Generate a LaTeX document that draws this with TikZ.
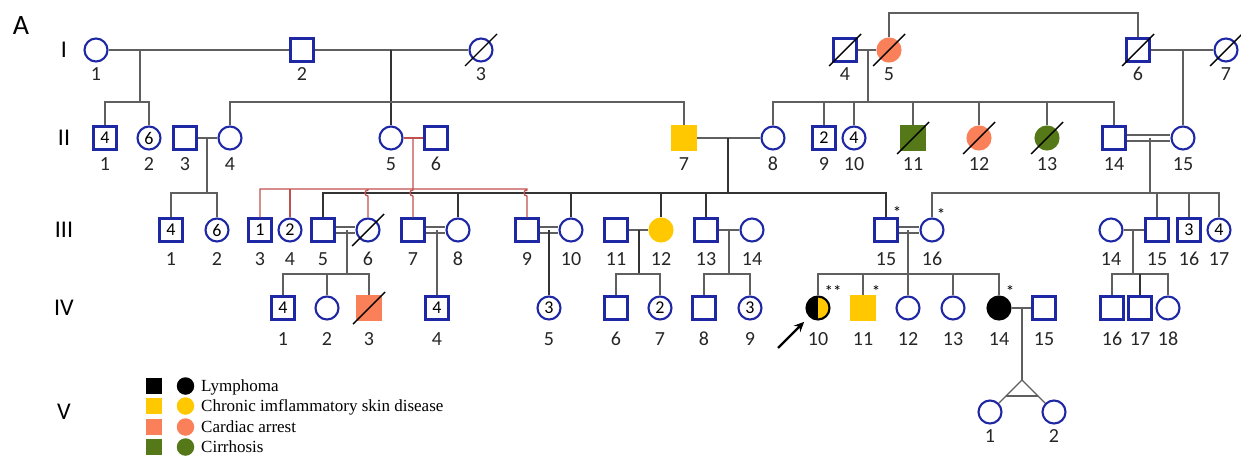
\documentclass[tikz,border=0pt]{standalone}
\usepackage{fontspec}
\setmainfont{Carlito}
\newfontfamily\legfont{Liberation Serif}
\usetikzlibrary{calc,arrows.meta}
\definecolor{pblue}{RGB}{30,40,165}
\definecolor{lgray}{RGB}{95,95,95}
\definecolor{dred}{RGB}{192,80,77}
\definecolor{porange}{RGB}{250,128,90}
\definecolor{pyellow}{RGB}{255,200,0}
\definecolor{pgreen}{RGB}{85,120,25}
\begin{document}
\begin{tikzpicture}[x=1pt,y=-1pt,
  base/.style={minimum size=23pt,inner sep=0pt,line width=2.1pt,draw=pblue,font=\fontsize{18}{18}\selectfont},
  ml/.style={base,rectangle},
  fl/.style={base,circle},
  fOr/.style={fill=porange,draw=porange},
  fYe/.style={fill=pyellow,draw=pyellow},
  fGr/.style={fill=pgreen,draw=pgreen},
  fBk/.style={fill=black,draw=black},
  lab/.style={inner sep=0pt,text height=13pt,text depth=0pt,font=\fontsize{20}{20}\selectfont,text=black!85},
  L1/.style={lab,label distance=4.5pt},
  L2/.style={lab,label distance=6.5pt},
  L3/.style={lab,label distance=9.5pt},
  L4/.style={lab,label distance=11.5pt},
  L5/.style={lab,label distance=4.5pt},
  conn/.style={draw=lgray,line width=1.3pt},
  connk/.style={draw=black!80,line width=1.4pt},
  redl/.style={draw=dred,line width=1.3pt},
  dbl/.style={draw=lgray,line width=1.3pt,double=white,double distance=4.5pt},
  slash/.style={draw=black,line width=1.4pt},
  gen/.style={font=\fontsize{24}{24}\selectfont,inner sep=0pt},
  ast/.style={font=\fontsize{17}{17}\selectfont,inner sep=0pt},
  lsq/.style={rectangle,minimum size=16pt,inner sep=0pt},
  lci/.style={circle,minimum size=17.5pt,inner sep=0pt},
  legt/.style={font=\legfont\fontsize{17}{17}\selectfont,anchor=base west,inner sep=0pt},
  arr/.style={draw=black,line width=2.4pt,-{Stealth[length=10pt,width=9pt]},shorten >=7pt}
]
\useasboundingbox (0,0) rectangle (1241,458);

% titles and generation labels
\node[font=\fontsize{28}{28}\selectfont,inner sep=0pt] (pa) at (21,26) {A};
\node[gen] (gI) at (64,50) {I};
\node[gen] (gII) at (64,138) {II};
\node[gen] (gIII) at (64,230) {III};
\node[gen] (gIV) at (64,308) {IV};
\node[gen] (gV) at (64,412) {V};

% Generation I
\node[fl,label={[L1]below:1}] (i1) at (96,50) {};
\node[ml,label={[L1]below:2}] (i2) at (302,50) {};
\node[fl,label={[L1]below:3}] (i3) at (481,50) {};
\node[ml,label={[L1]below:4}] (i4) at (845,50) {};
\node[fl,fOr,label={[L1]below:5}] (i5) at (889,50) {};
\node[ml,label={[L1]below:6}] (i6) at (1138,50) {};
\node[fl,label={[L1]below:7}] (i7) at (1226,50) {};

% Generation II
\node[ml,label={[L2]below:1}] (ii1) at (105,138) {4};
\node[fl,label={[L2]below:2}] (ii2) at (149,138) {6};
\node[ml,label={[L2]below:3}] (ii3) at (185,138) {};
\node[fl,label={[L2]below:4}] (ii4) at (230,138) {};
\node[fl,label={[L2]below:5}] (ii5) at (391,138) {};
\node[ml,label={[L2]below:6}] (ii6) at (436,138) {};
\node[ml,fYe,label={[L2]below:7}] (ii7) at (684,138) {};
\node[fl,label={[L2]below:8}] (ii8) at (773,138) {};
\node[ml,label={[L2]below:9}] (ii9) at (824,138) {2};
\node[fl,label={[L2]below:10}] (ii10) at (854,138) {4};
\node[ml,fGr,label={[L2]below:11}] (ii11) at (913,138) {};
\node[fl,fOr,label={[L2]below:12}] (ii12) at (979,138) {};
\node[fl,fGr,label={[L2]below:13}] (ii13) at (1047,138) {};
\node[ml,label={[L2]below:14}] (ii14) at (1114,138) {};
\node[fl,label={[L2]below:15}] (ii15) at (1183,138) {};

% Generation III
\node[ml,label={[L3]below:1}] (iii1) at (171,230) {4};
\node[fl,label={[L3]below:2}] (iii2) at (217,230) {6};
\node[ml,label={[L3]below:3}] (iii3) at (260,230) {1};
\node[fl,label={[L3]below:4}] (iii4) at (290,230) {2};
\node[ml,label={[L3]below:5}] (iii5) at (323,230) {};
\node[fl,label={[L3]below:6}] (iii6) at (368,230) {};
\node[ml,label={[L3]below:7}] (iii7) at (413,230) {};
\node[fl,label={[L3]below:8}] (iii8) at (458,230) {};
\node[ml,label={[L3]below:9}] (iii9) at (527,230) {};
\node[fl,label={[L3]below:10}] (iii10) at (571,230) {};
\node[ml,label={[L3]below:11}] (iii11) at (616,230) {};
\node[fl,fYe,label={[L3]below:12}] (iii12) at (661,230) {};
\node[ml,label={[L3]below:13}] (iii13) at (706,230) {};
\node[fl,label={[L3]below:14}] (iii14) at (752,230) {};
\node[ml,label={[L3]below:15}] (iii15) at (886,230) {};
\node[fl,label={[L3]below:16}] (iii16) at (932,230) {};
\node[fl,label={[L3]below:14}] (iii14b) at (1111,230) {};
\node[ml,label={[L3]below:15}] (iii15b) at (1157,230) {};
\node[ml,label={[L3]below:16}] (iii16b) at (1189,230) {3};
\node[fl,label={[L3]below:17}] (iii17) at (1219,230) {4};

% Generation IV
\node[ml,label={[L4]below:1}] (iv1) at (283,308) {4};
\node[fl,label={[L4]below:2}] (iv2) at (327,308) {};
\node[ml,fOr,label={[L4]below:3}] (iv3) at (369,308) {};
\node[ml,label={[L4]below:4}] (iv4) at (437,308) {4};
\node[fl,label={[L4]below:5}] (iv5) at (549,308) {3};
\node[ml,label={[L4]below:6}] (iv6) at (616,308) {};
\node[fl,label={[L4]below:7}] (iv7) at (660,308) {2};
\node[ml,label={[L4]below:8}] (iv8) at (704,308) {};
\node[fl,label={[L4]below:9}] (iv9) at (750,308) {3};
\node[fl,draw=black,label={[L4]below:10},
  path picture={\fill[pyellow] (path picture bounding box.south) rectangle (path picture bounding box.north east);
                \fill[black] (path picture bounding box.south west) rectangle (path picture bounding box.north);}] (iv10) at (818,308) {};
\node[ml,fYe,label={[L4]below:11}] (iv11) at (863,308) {};
\node[fl,label={[L4]below:12}] (iv12) at (908,308) {};
\node[fl,label={[L4]below:13}] (iv13) at (953,308) {};
\node[fl,fBk,label={[L4]below:14}] (iv14) at (999,308) {};
\node[ml,label={[L4]below:15}] (iv15) at (1044,308) {};
\node[ml,label={[L4]below:16}] (iv16) at (1112,308) {};
\node[ml,label={[L4]below:17}] (iv17) at (1140,308) {};
\node[fl,label={[L4]below:18}] (iv18) at (1168,308) {};

% Generation V
\node[fl,label={[L5]below:1}] (v1) at (990,412) {};
\node[fl,label={[L5]below:2}] (v2) at (1054,412) {};

% deceased slashes
\foreach \p in {i3,i4,i5,i6,i7,ii11,ii12,ii13,iii6,iv3}
  \draw[slash] ($(\p.center)+(-16,16)$) -- ($(\p.center)+(16,-16)$);

% helper rows
\coordinate (top) at (0,13);
\coordinate (s1) at (0,102);
\coordinate (rs) at (0,189);
\coordinate (s2) at (0,193);
\coordinate (s3) at (0,274);

% Generation I connectors
\draw[conn] (i1) -- (i2);
\draw[conn] (i2) -- (i3);
\coordinate (m12) at (140,50);
\draw[conn] (m12) -- (m12 |- s1);
\draw[conn] (ii1.north) -- (ii1.north |- s1) -- (ii2.north |- s1) -- (ii2.north);
\coordinate (m23) at (391,50);
\draw[connk] (m23) -- (ii5.north);
\draw[conn] (ii4.north) -- (ii4.north |- s1) -- (ii7.north |- s1) -- (ii7.north);
\draw[conn] (i4) -- (i5);
\coordinate (m45) at (868,50);
\draw[conn] (m45) -- (m45 |- s1);
\draw[conn] (ii8.north) -- (ii8.north |- s1) -- (ii14.north |- s1) -- (ii14.north);
\foreach \c in {ii9,ii10,ii11,ii12,ii13} \draw[conn] (\c.north) -- (\c.north |- s1);
\draw[conn] (i6) -- (i7);
\coordinate (m67) at (1183,50);
\draw[conn] (m67) -- (ii15.north);
\draw[conn] (i5.north) -- (i5.north |- top) -- (i6.north |- top) -- (i6.north);

% Generation II connectors
\draw[conn] (ii3) -- (ii4);
\coordinate (m34) at (207,138);
\draw[conn] (m34) -- (m34 |- s2);
\draw[conn] (iii1.north) -- (iii1.north |- s2) -- (iii2.north |- s2) -- (iii2.north);

\draw[conn] (ii7) -- (ii8);
\coordinate (m78) at (728,138);
\draw[connk] (m78) -- (m78 |- s2);
\draw[connk] (iii5.north) -- (iii5.north |- s2) -- (iii15.north |- s2) -- (iii15.north);
\foreach \c in {iii8,iii10,iii12,iii13} \draw[connk] (\c.north |- s2) -- (\c.north);

\draw[redl] (ii5) -- (ii6);
\coordinate (m56) at (413,138);
\draw[redl] (iii3.north) -- (iii3.north |- rs) -- (iii9.north |- rs) -- ++(0,1)
   .. controls +(-4,0) and +(-4,0) .. ++(0,6) -- (iii9.north);
\draw[redl] (iii4.north |- rs) -- (iii4.north);
\draw[redl] (iii6.north |- rs) -- ++(0,1) .. controls +(-4,0) and +(-4,0) .. ++(0,6) -- (iii6.north);
\draw[redl] (m56) -- (iii7.north |- rs) -- ++(0,1) .. controls +(-4,0) and +(-4,0) .. ++(0,6) -- (iii7.north);

\draw[dbl] (ii14) -- (ii15);
\coordinate (m1415) at (1150,138);
\draw[conn] (m1415) -- (m1415 |- s2);
\draw[conn] (iii16.north) -- (iii16.north |- s2) -- (iii17.north |- s2) -- (iii17.north);
\foreach \c in {iii15b,iii16b} \draw[conn] (\c.north |- s2) -- (\c.north);

% Generation III connectors
\draw[dbl] (iii5) -- (iii6);
\coordinate (m5b6) at (347,230);
\draw[conn] (m5b6) -- (m5b6 |- s3);
\draw[conn] (iv1.north) -- (iv1.north |- s3) -- (iv3.north |- s3) -- (iv3.north);
\draw[conn] (iv2.north |- s3) -- (iv2.north);

\draw[dbl] (iii7) -- (iii8);
\coordinate (m7b8) at (437,230);
\draw[conn] (m7b8) -- (iv4.north);

\draw[dbl] (iii9) -- (iii10);
\coordinate (m9b10) at (549,230);
\draw[connk] (m9b10) -- (iv5.north);

\draw[conn] (iii11) -- (iii12);
\coordinate (m11b12) at (639,230);
\draw[connk] (m11b12) -- (m11b12 |- s3);
\draw[conn] (iv6.north) -- (iv6.north |- s3) -- (iv7.north |- s3) -- (iv7.north);

\draw[conn] (iii13) -- (iii14);
\coordinate (m13b14) at (729,230);
\draw[conn] (m13b14) -- (m13b14 |- s3);
\draw[conn] (iv8.north) -- (iv8.north |- s3) -- (iv9.north |- s3) -- (iv9.north);

\draw[dbl] (iii15) -- (iii16);
\coordinate (m15b16) at (908,230);
\draw[conn] (m15b16) -- (m15b16 |- s3);
\draw[conn] (iv10.north) -- (iv10.north |- s3) -- (iv14.north |- s3) -- (iv14.north);
\foreach \c in {iv11,iv12,iv13} \draw[conn] (\c.north |- s3) -- (\c.north);

\draw[conn] (iii14b) -- (iii15b);
\coordinate (m14b15) at (1133,230);
\draw[conn] (m14b15) -- (m14b15 |- s3);
\draw[conn] (iv16.north) -- (iv16.north |- s3) -- (iv18.north |- s3) -- (iv18.north);
\draw[connk] (iv17.north |- s3) -- (iv17.north);

% Generation IV connectors and twins
\draw[conn] (iv14) -- (iv15);
\coordinate (m1415b) at (1022,308);
\coordinate (apex) at (1022,380);
\draw[conn] (m1415b) -- (apex);
\draw[conn] (apex) -- (v1);
\draw[conn] (apex) -- (v2);
\draw[conn] ($(apex)!0.5!(v1.center)$) -- ($(apex)!0.5!(v2.center)$);

% proband arrow
\coordinate (pb) at (778,348);
\draw[arr] (pb) -- (iv10.south west);

% asterisks
\node[ast] (a1) at (897,212) {*};
\node[ast] (a2) at (941,214) {*};
\node[ast] (a3) at (833,291) {**};
\node[ast] (a4) at (876,291) {*};
\node[ast] (a5) at (1010,291) {*};

% legend
\node[lsq,fill=black] (k1s) at (154,386) {};
\node[lci,fill=black] (k1c) at (185.5,386) {};
\node[legt] (k1t) at (201,391.5) {Lymphoma};
\node[lsq,fill=pyellow] (k2s) at (154,406) {};
\node[lci,fill=pyellow] (k2c) at (185.5,406) {};
\node[legt] (k2t) at (201,411.5) {Chronic imflammatory skin disease};
\node[lsq,fill=porange] (k3s) at (154,427) {};
\node[lci,fill=porange] (k3c) at (185.5,427) {};
\node[legt] (k3t) at (201,432.5) {Cardiac arrest};
\node[lsq,fill=pgreen] (k4s) at (154,447) {};
\node[lci,fill=pgreen] (k4c) at (185.5,447) {};
\node[legt] (k4t) at (201,452.5) {Cirrhosis};
\end{tikzpicture}
\end{document}
